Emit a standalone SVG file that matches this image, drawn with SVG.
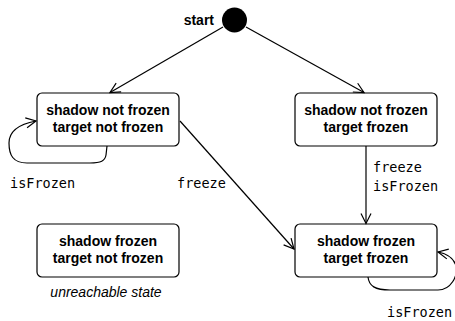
<svg xmlns="http://www.w3.org/2000/svg" width="455" height="321" viewBox="0 0 455 321">
<defs>
<marker id="arr" viewBox="0 0 12 12" refX="11" refY="6" markerWidth="12" markerHeight="12" markerUnits="userSpaceOnUse" orient="auto">
<path d="M1,1 L11,6 L1,11" fill="none" stroke="#000" stroke-width="1.2"/>
</marker>
<style>
.box{fill:#fff;stroke:#000;stroke-width:1.2}
.bt{font-family:"Liberation Sans",Arial,sans-serif;font-weight:bold;font-size:14px;text-anchor:middle}
.mono{font-family:"DejaVu Sans Mono",monospace;font-size:13.5px}
.edge{fill:none;stroke:#000;stroke-width:1.2;marker-end:url(#arr)}
</style>
</defs>
<rect width="455" height="321" fill="#fff"/>
<g id="start">
<circle cx="234.5" cy="20" r="12.5" fill="#000"/>
<text x="214" y="24.5" class="bt" style="text-anchor:end">start</text>
</g>
<g id="n1">
<rect class="box" x="37" y="93" width="142" height="53" rx="5"/>
<text class="bt" x="108" y="115">shadow not frozen</text>
<text class="bt" x="108" y="132">target not frozen</text>
</g>
<g id="n2">
<rect class="box" x="295" y="93" width="142" height="53" rx="5"/>
<text class="bt" x="366" y="115">shadow not frozen</text>
<text class="bt" x="366" y="132">target frozen</text>
</g>
<g id="n3">
<rect class="box" x="37" y="224" width="142" height="53" rx="5"/>
<text class="bt" x="108" y="246">shadow frozen</text>
<text class="bt" x="108" y="263">target not frozen</text>
<text x="106" y="297" style="font-family:'Liberation Sans',Arial,sans-serif;font-style:italic;font-size:14px;text-anchor:middle">unreachable state</text>
</g>
<g id="n4">
<rect class="box" x="295" y="224" width="142" height="53" rx="5"/>
<text class="bt" x="366" y="246">shadow frozen</text>
<text class="bt" x="366" y="263">target frozen</text>
</g>
<g id="edges">
<path class="edge" d="M223,27 L110,92.5"/>
<path class="edge" d="M246,27 L364,92.5"/>
<path class="edge" d="M180,121 L294,249"/>
<path class="edge" d="M366,146 L366,223.5"/>
<path class="edge" d="M107,146 L106,155 C105,161 101,163 90,163 L27,163 C13,163 9,155 9,143 C9,131 20,124 36,121"/>
<path class="edge" d="M368,277 C369,286 375,290 390,290 L438,290 C451,290 458,276 456,266 C454,258 448,254 438,252"/>
<text class="mono" x="10" y="188">isFrozen</text>
<text class="mono" x="177" y="188">freeze</text>
<text class="mono" x="373" y="172">freeze</text>
<text class="mono" x="373" y="191">isFrozen</text>
<text class="mono" x="387" y="317">isFrozen</text>
</g>
</svg>
